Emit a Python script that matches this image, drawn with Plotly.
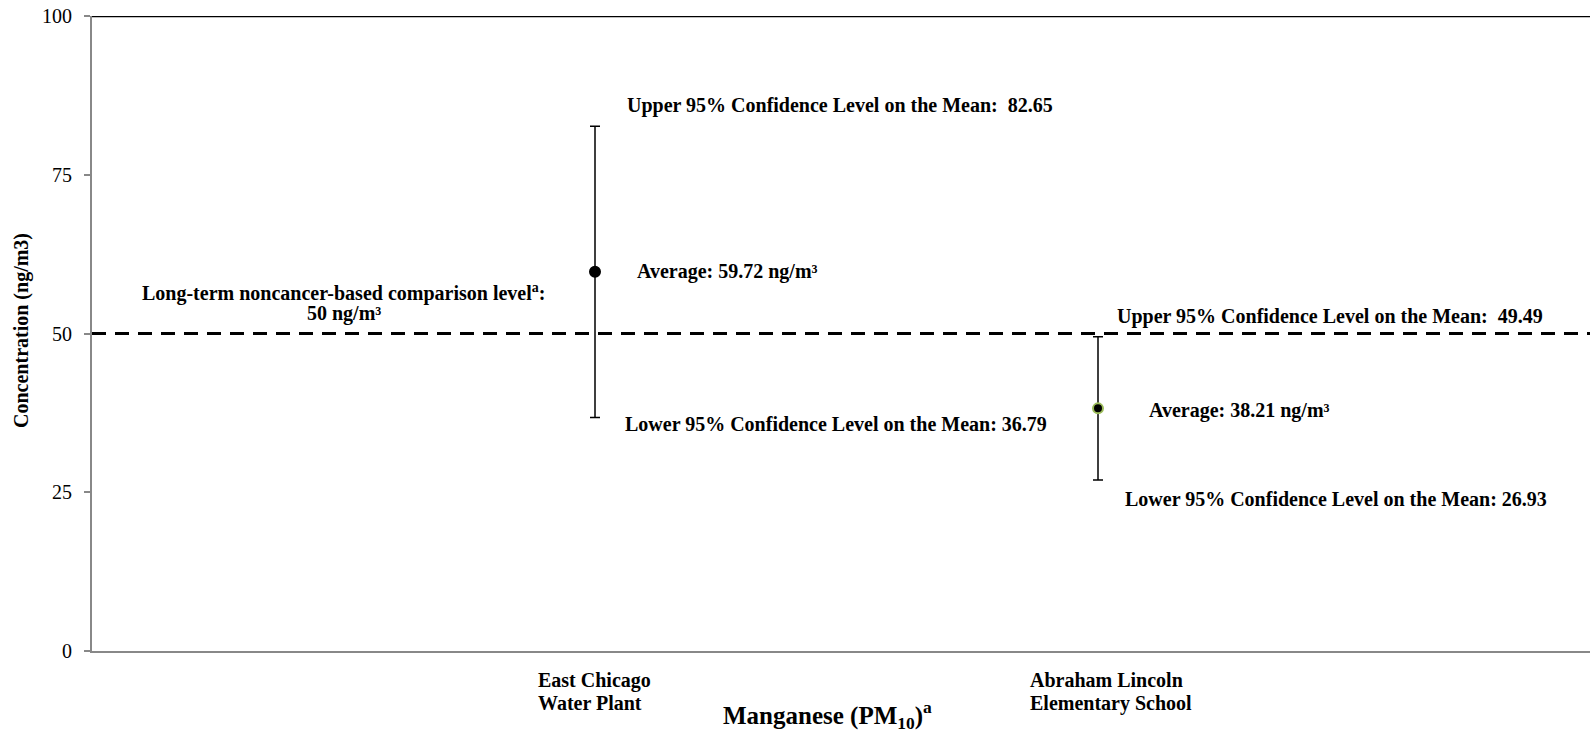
import plotly.graph_objects as go

# ---- data ----
site_labels = [["East Chicago", "Water Plant"], ["Abraham Lincoln", "Elementary School"]]
site_x = [1, 2]
means = [59.72, 38.21]
upper_ci = [82.65, 49.49]
lower_ci = [36.79, 26.93]
comparison_level = 50
comparison_text = ["Long-term noncancer-based comparison level<sup>a</sup>:", "50 ng/m³"]
y_ticks = [0, 25, 50, 75, 100]
x_title = "Manganese (PM<sub>10</sub>)<sup>a</sup>"
y_title = "Concentration (ng/m3)"

# ---- styles ----
marker_edge = ["black", "#9BBB59"]
FONT = "Liberation Serif"
W, H = 1590, 733
ML, MR, MT, MB = 92, 0, 16, 82
px_per_unit = 503.0
x_max = (W - ML - MR) / px_per_unit

fig = go.Figure()

for i in range(len(site_x)):
    fig.add_trace(go.Scatter(
        x=[site_x[i]], y=[means[i]], mode="markers",
        marker=dict(color="black", size=10, line=dict(color=marker_edge[i], width=2)),
        error_y=dict(type="data", symmetric=False,
                     array=[upper_ci[i] - means[i]],
                     arrayminus=[means[i] - lower_ci[i]],
                     color="black", thickness=1.5, width=5),
        showlegend=False, hoverinfo="skip"))

# comparison level dashed line
fig.add_shape(type="line", xref="paper", yref="y", x0=0, x1=1,
              y0=comparison_level, y1=comparison_level,
              line=dict(color="black", width=3, dash="14px,9px"), layer="above")
# top border line
fig.add_shape(type="line", xref="paper", yref="y", x0=0, x1=1, y0=100, y1=100,
              line=dict(color="black", width=2.5), layer="above")

ann_font = dict(family=FONT, size=20, color="black")

up_xs = [30, 17]; up_ys = [21, 20]
avg_xs = [40, 49]; avg_ys = [0, -2]
lo_xs = [28, 25]; lo_ys = [-7, -19]
lab_xs = [-59, -70]

anns = []
for i in range(len(site_x)):
    anns.append(dict(x=site_x[i], y=upper_ci[i], xref="x", yref="y",
                     text=f"<b>Upper 95% Confidence Level on the Mean:  {upper_ci[i]:.2f}</b>",
                     showarrow=False, xanchor="left", yanchor="middle",
                     xshift=up_xs[i], yshift=up_ys[i], font=ann_font))
    anns.append(dict(x=site_x[i], y=means[i], xref="x", yref="y",
                     text=f"<b>Average: {means[i]:.2f} ng/m³</b>",
                     showarrow=False, xanchor="left", yanchor="middle",
                     xshift=avg_xs[i], yshift=avg_ys[i], font=ann_font))
    anns.append(dict(x=site_x[i], y=lower_ci[i], xref="x", yref="y",
                     text=f"<b>Lower 95% Confidence Level on the Mean: {lower_ci[i]:.2f}</b>",
                     showarrow=False, xanchor="left", yanchor="middle",
                     xshift=lo_xs[i], yshift=lo_ys[i], font=ann_font))
    for j, line in enumerate(site_labels[i]):
        anns.append(dict(x=site_x[i], y=0, xref="x", yref="y",
                         text=f"<b>{line}</b>",
                         showarrow=False, xanchor="left", yanchor="middle",
                         xshift=lab_xs[i], yshift=-(29 + 23 * j), font=ann_font))

for j, line in enumerate(comparison_text):
    anns.append(dict(x=0.5, y=comparison_level, xref="x", yref="y",
                     text=f"<b>{line}</b>",
                     showarrow=False, xanchor="center", yanchor="middle",
                     yshift=41 - 21 * j, font=ann_font))

anns.append(dict(x=0.4907, y=0, xref="paper", yref="paper",
                 text=f"<b>{x_title}</b>", showarrow=False,
                 xanchor="center", yanchor="middle", yshift=-64,
                 font=dict(family=FONT, size=25, color="black")))
anns.append(dict(x=0, y=0.504, xref="paper", yref="paper",
                 text=f"<b>{y_title}</b>", showarrow=False, textangle=-90,
                 xanchor="center", yanchor="middle", xshift=-70,
                 font=dict(family=FONT, size=20, color="black")))

fig.update_layout(
    width=W, height=H,
    margin=dict(l=ML, r=MR, t=MT, b=MB, pad=0),
    plot_bgcolor="white", paper_bgcolor="white",
    annotations=anns,
    xaxis=dict(range=[0, x_max], showgrid=False, zeroline=False,
               showticklabels=False, ticks="",
               showline=True, linecolor="#888888", linewidth=2),
    yaxis=dict(range=[0, 100], tickvals=y_ticks, showgrid=False, zeroline=False,
               showline=True, linecolor="#888888", linewidth=2,
               ticks="outside", ticklen=6, tickwidth=2, tickcolor="#888888",
               ticklabelstandoff=8,
               tickfont=dict(family=FONT, size=20, color="black")),
)

fig.write_html("out.html", config={"displayModeBar": False},
               post_script="document.body.style.margin='0';document.body.style.overflow='hidden';")
